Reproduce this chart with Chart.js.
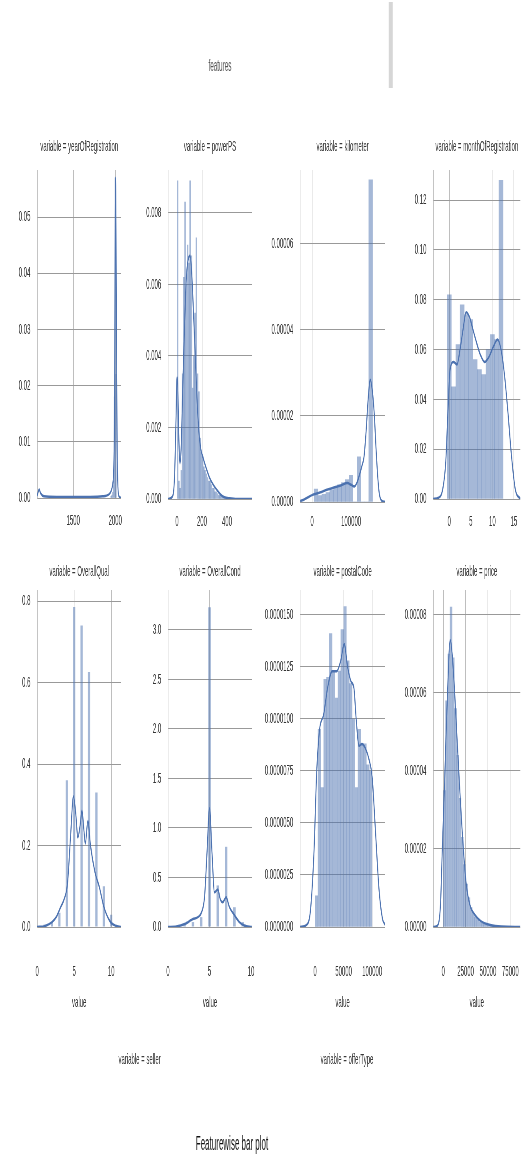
<!DOCTYPE html>
<html><head><meta charset="utf-8">
<script src="https://cdn.jsdelivr.net/npm/chart.js@4.4.0/dist/chart.umd.min.js"></script>
<style>
html,body{margin:0;padding:0;background:#fff;overflow:hidden;width:524px;height:1156px}
#fig{position:absolute;left:0;top:0;width:1310px;height:1156px;transform:scaleX(0.4);transform-origin:0 0}
#fig canvas{position:absolute}
.txt{position:absolute;font-family:'Liberation Sans',Arial,sans-serif;white-space:nowrap;transform:translate(-50%,-50%)}
</style></head>
<body><div id="fig">
<div class="txt" style="left:550px;top:66px;font-size:16px;color:#555">features</div>
<div style="position:absolute;left:972px;top:2px;width:10px;height:86px;background:#d6d6d6"></div>
<div class="txt" style="left:580px;top:1143px;font-size:20px;color:#111">Featurewise bar plot</div>
</div>
<script>
// ---------- data ----------
const yearBins = [1950, 1960, 1970, 1980, 1990, 2000, 2010];
const yearHist = [0.0003, 0.0005, 0.001, 0.003, 0.018, 0.057, 0.022];
const yearKdeX = [1071,1085,1095,1110,1150,1300,1500,1700,1850,1920,1950,1970,1982,1990,1996,2000,2004,2009,2015,2022,2032,2045,2071];
const yearKdeY = [0.0004,0.0012,0.0015,0.0009,0.0003,0.0002,0.0002,0.0002,0.0003,0.0006,0.0012,0.0025,0.005,0.013,0.03,0.05,0.057,0.048,0.028,0.01,0.002,0.0003,0];
const yearXTicks = [1500, 2000];
const yearYTicks = [0, 0.01, 0.02, 0.03, 0.04, 0.05];

const powerBins = [5,15,25,35,45,55,65,75,85,95,105,115,125,135,145,155,165,175,185,195,205,215,225,235,245,255,265,275,285,295,305,315,325,335,345,355,365,375,385,395];
const powerHist = [0.0089,0.0005,0.0003,0.0008,0.0035,0.0062,0.0083,0.0060,0.0071,0.0066,0.0089,0.0068,0.0031,0.0040,0.0052,0.0073,0.0035,0.0030,0.0017,0.0013,0.0012,0.0009,0.0008,0.0007,0.0006,0.0005,0.0005,0.0004,0.0003,0.0003,0.0002,0.0002,0.00015,0.0001,0.0001,0.00008,0.00005,0.00004,0.00003,0.00002];
const powerKdeX = [-72,-40,-20,-8,0,6,14,24,34,45,60,75,90,104,118,132,146,160,175,190,205,230,260,290,320,350,380,420,480,600];
const powerKdeY = [0,0.00005,0.0006,0.0022,0.0034,0.0032,0.0018,0.0010,0.0015,0.0030,0.0048,0.0062,0.0067,0.0068,0.0063,0.0052,0.0040,0.0028,0.0019,0.0014,0.0012,0.0009,0.0006,0.0004,0.00025,0.00012,0.00005,0.00002,0,0];
const powerXTicks = [0, 200, 400];
const powerYTicks = [0, 0.002, 0.004, 0.006, 0.008];

const kmBins = [10000,20000,30000,40000,50000,60000,70000,80000,90000,100000,110000,120000,130000,140000,150000];
const kmHist = [3.0e-6,1.5e-6,1.8e-6,2.2e-6,2.8e-6,3.5e-6,4.0e-6,4.5e-6,5.2e-6,6.2e-6,0,1.05e-5,0,0,7.49e-5];
const kmKdeX = [-30000,-20000,-10000,0,20000,40000,60000,75000,90000,100000,108000,115000,122000,128000,133000,138000,144000,149000,154000,159000,164000,168000,172000,178000,187000];
const kmKdeY = [0.2e-6,0.6e-6,1.1e-6,1.6e-6,2.2e-6,2.9e-6,3.5e-6,3.9e-6,4.4e-6,4.0e-6,3.6e-6,4.5e-6,6.5e-6,8.5e-6,1.05e-5,1.6e-5,2.44e-5,2.84e-5,2.6e-5,2.07e-5,1.2e-5,6.0e-6,2.0e-6,0.3e-6,0];
const kmXTicks = [0, 100000];
const kmYTicks = [0, 0.00002, 0.00004, 0.00006];

const monthBins = [0,1,2,3,4,5,6,7,8,9,10,11,12];
const monthHist = [0.082,0.045,0.062,0.078,0.074,0.072,0.056,0.052,0.050,0.060,0.066,0.064,0.128];
const monthKdeX = [-3.7,-2.5,-1.5,-0.8,-0.3,0.2,1.0,1.8,2.5,3.2,3.9,4.7,5.5,6.3,7.2,8.2,9.2,10.2,11.2,12,12.8,13.6,14.4,15.3,16.5];
const monthKdeY = [0,0.0005,0.004,0.015,0.035,0.052,0.055,0.054,0.060,0.068,0.075,0.073,0.068,0.063,0.058,0.055,0.057,0.061,0.064,0.060,0.050,0.035,0.018,0.004,0];
const monthXTicks = [0, 5, 10, 15];
const monthYTicks = [0, 0.02, 0.04, 0.06, 0.08, 0.10, 0.12];

const qualBins = [1,2,3,4,5,6,7,8,9,10];
const qualHist = [0.006,0.012,0.035,0.36,0.785,0.74,0.626,0.33,0.1,0.03];
const qualKdeX = [0,1,2,2.6,3.2,3.6,4.1,4.5,4.9,5.2,5.5,5.8,6.05,6.3,6.5,6.85,7.2,7.8,8.4,9,9.8,10.6,11.35];
const qualKdeY = [0,0.002,0.012,0.025,0.05,0.066,0.108,0.22,0.32,0.28,0.22,0.25,0.285,0.24,0.205,0.26,0.2,0.135,0.098,0.05,0.015,0.003,0];
const qualXTicks = [0, 5, 10];
const qualYTicks = [0, 0.2, 0.4, 0.6, 0.8];

const condBins = [1,2,3,4,5,6,7,8,9];
const condHist = [0.005,0.02,0.05,0.1,3.23,0.42,0.81,0.2,0.05];
const condKdeX = [0,1,2,3,3.6,4,4.4,4.7,5,5.3,5.6,6,6.3,6.6,7,7.4,8,8.6,9.2,10.1];
const condKdeY = [0,0.005,0.03,0.08,0.1,0.14,0.3,0.75,1.2,0.75,0.35,0.38,0.28,0.25,0.3,0.2,0.12,0.05,0.015,0];
const condXTicks = [0, 5, 10];
const condYTicks = [0, 0.5, 1.0, 1.5, 2.0, 2.5, 3.0];

const postalBins = [2500,7500,12500,17500,22500,27500,32500,37500,42500,47500,52500,57500,62500,67500,72500,77500,82500,87500,92500,97500];
const postalHist = [1.5e-6,9.5e-6,6.7e-6,1.19e-5,1.2e-5,1.41e-5,1.23e-5,1.10e-5,1.23e-5,1.43e-5,1.54e-5,1.28e-5,1.17e-5,1.0e-5,6.7e-6,9.5e-6,8.8e-6,8.8e-6,7.8e-6,7.5e-6];
const postalKdeX = [-26000,-15000,-8000,-2000,3000,8000,15000,22000,30000,38000,45000,51000,57000,63000,68000,72000,77000,82000,88000,95000,100000,106000,112000,118000,122800];
const postalKdeY = [0,0.1e-6,0.8e-6,3.5e-6,7.5e-6,9.5e-6,1.02e-5,1.15e-5,1.23e-5,1.23e-5,1.28e-5,1.36e-5,1.25e-5,1.18e-5,1.15e-5,1.0e-5,8.7e-6,8.8e-6,8.6e-6,8.0e-6,7.2e-6,4.5e-6,1.8e-6,0.4e-6,0.1e-6];
const postalXTicks = [0, 50000, 100000];
const postalYTicks = [0, 0.0000025, 0.000005, 0.0000075, 0.00001, 0.0000125, 0.000015];

const priceBins = [1250,3750,6250,8750,11250,13750,16250,18750,21250,23750,26250,28750,31250,33750,36250,38750,41250,43750,46250,48750,51250,53750,56250,58750,61250];
const priceHist = [3.5e-5,5.8e-5,7.0e-5,8.2e-5,6.9e-5,5.6e-5,4.4e-5,3.3e-5,2.3e-5,1.6e-5,1.1e-5,7.5e-6,5.0e-6,3.5e-6,2.5e-6,1.8e-6,1.3e-6,1.0e-6,7e-7,5e-7,4e-7,3e-7,2e-7,1.5e-7,1e-7];
const priceKdeX = [-11000,-6000,-3000,-1000,1100,4500,7800,10000,12300,15500,19000,22500,25700,30000,35800,42000,52600,65000,86000];
const priceKdeY = [0,0.5e-6,6e-6,2.0e-5,3.4e-5,5.8e-5,7.36e-5,7.0e-5,6.2e-5,4.8e-5,3.3e-5,2.0e-5,1.1e-5,5.5e-6,3.0e-6,1.5e-6,5e-7,1e-7,0];
const priceXTicks = [0, 25000, 50000, 75000];
const priceYTicks = [0, 0.00002, 0.00004, 0.00006, 0.00008];

// ---------- layout ----------
const S = 0.4, YW = 90, RP = 8, FS = 15, LH = FS * 1.2;
const FONT = "'Liberation Sans', Arial, sans-serif";
const fig = document.getElementById('fig');

const panels = [
  {title:'variable = yearOfRegistration', bins:yearBins, hist:yearHist, kx:yearKdeX, ky:yearKdeY, xt:yearXTicks, yt:yearYTicks, dec:2,
   xmin:1071, xmax:2071, ymax:0.0584, L:37, R:121, T:170, B:498, tc:147, xh:40, lab:23, bp:1},
  {title:'variable = powerPS', bins:powerBins, hist:powerHist, kx:powerKdeX, ky:powerKdeY, xt:powerXTicks, yt:powerYTicks, dec:3,
   xmin:-72, xmax:600, ymax:0.0092, L:168, R:252, T:170, B:499, tc:147, xh:40, lab:23, bp:1},
  {title:'variable = kilometer', bins:kmBins, hist:kmHist, kx:kmKdeX, ky:kmKdeY, xt:kmXTicks, yt:kmYTicks, dec:5,
   xmin:-30770, xmax:187180, ymax:0.0000772, L:300, R:385, T:170, B:502, tc:147, xh:37, lab:20, bp:1},
  {title:'variable = monthOfRegistration', bins:monthBins, hist:monthHist, kx:monthKdeX, ky:monthKdeY, xt:monthXTicks, yt:monthYTicks, dec:2,
   xmin:-3.72, xmax:16.5, ymax:0.1321, L:433, R:520, T:170, B:499, tc:147, xh:40, lab:23, bp:1},
  {title:'variable = OverallQual', bins:qualBins, hist:qualHist, kx:qualKdeX, ky:qualKdeY, xt:qualXTicks, yt:qualYTicks, dec:1,
   xmin:0, xmax:11.35, ymax:0.827, L:37, R:121, T:590, B:927, tc:572, xh:90, lab:45, bp:0.3, xtitle:true},
  {title:'variable = OverallCond', bins:condBins, hist:condHist, kx:condKdeX, ky:condKdeY, xt:condXTicks, yt:condYTicks, dec:1,
   xmin:0, xmax:10.12, ymax:3.404, L:168, R:252, T:590, B:927, tc:572, xh:90, lab:45, bp:0.3, xtitle:true},
  {title:'variable = postalCode', bins:postalBins, hist:postalHist, kx:postalKdeX, ky:postalKdeY, xt:postalXTicks, yt:postalYTicks, dec:7,
   xmin:-26316, xmax:122807, ymax:0.0000162, L:300, R:385, T:590, B:927, tc:572, xh:90, lab:45, bp:1, xtitle:true},
  {title:'variable = price', bins:priceBins, hist:priceHist, kx:priceKdeX, ky:priceKdeY, xt:priceXTicks, yt:priceYTicks, dec:5,
   xmin:-11198, xmax:86226, ymax:0.0000864, L:433, R:520, T:590, B:927, tc:572, xh:90, lab:45, bp:1, xtitle:true}
];

function addCanvas(left, top, w, h) {
  const c = document.createElement('canvas');
  c.width = Math.round(w); c.height = Math.round(h);
  c.style.left = left + 'px'; c.style.top = top + 'px';
  fig.appendChild(c);
  return c;
}

panels.forEach(p => {
  const top = p.tc - LH / 2;
  const left = p.L / S - YW;
  const w = (p.R - p.L) / S + YW + RP;
  const h = p.B + p.xh - top;
  const c = addCanvas(left, top, w, h);
  const bars = p.bins.map((x, i) => ({x: x, y: p.hist[i]}));
  const kde = p.kx.map((x, i) => ({x: x, y: p.ky[i]}));
  const xTickLen = p.lab - LH / 2 - 2;
  new Chart(c, {
    type: 'bar',
    data: {datasets: [
      {type:'line', data:kde, borderColor:'#4c72b0', borderWidth:2.5, pointRadius:0,
       cubicInterpolationMode:'monotone', fill:false, order:0},
      {type:'bar', data:bars, backgroundColor:'rgba(76,114,176,0.5)', borderWidth:0,
       barPercentage:p.bp, categoryPercentage:1, order:1}
    ]},
    options: {
      responsive:false, animation:false, events:[],
      layout:{padding:{left:0, right:RP, top:0, bottom:0}},
      plugins:{
        legend:{display:false}, tooltip:{enabled:false},
        title:{display:true, text:p.title, fullSize:false, color:'#3a3a3a',
               font:{family:FONT, size:FS, weight:'normal'},
               padding:{top:0, bottom:p.T - top - LH}}
      },
      scales:{
        x:{type:'linear', min:p.xmin, max:p.xmax, offset:false,
           afterBuildTicks: s => { s.ticks = p.xt.map(v => ({value:v})); },
           afterFit: s => { s.height = p.xh; },
           ticks:{autoSkip:false, maxRotation:0, minRotation:0, padding:2, color:'#333',
                  font:{family:FONT, size:FS}, callback: v => String(v)},
           grid:{color:'#a8a8a8', lineWidth:1, drawTicks:true, tickLength:xTickLen,
                 tickColor:'rgba(0,0,0,0)', offset:false},
           border:{display:false},
           title: p.xtitle ? {display:true, text:'value', color:'#333', font:{family:FONT, size:FS},
                               padding:{top:0, bottom:5}} : {display:false}},
        y:{min:0, max:p.ymax,
           afterBuildTicks: s => { s.ticks = p.yt.map(v => ({value:v})); },
           afterFit: s => { s.width = YW; },
           ticks:{padding:3, color:'#333', font:{family:FONT, size:FS}, callback: v => Number(v).toFixed(p.dec)},
           grid:{color:'#999', lineWidth:1, drawTicks:true, tickLength:14, tickColor:'rgba(0,0,0,0)'},
           border:{display:true, color:'#b0b0b0'}}
      }
    }
  });
});

// empty facets (seller, offerType)
const emptyFacets = [
  {title:'variable = seller', L:62, R:217},
  {title:'variable = offerType', L:268, R:426}
];
emptyFacets.forEach(p => {
  const c = addCanvas(p.L / S, 1060 - LH / 2, (p.R - p.L) / S, 40);
  new Chart(c, {
    type:'bar',
    data:{datasets:[]},
    options:{
      responsive:false, animation:false, events:[],
      plugins:{legend:{display:false}, tooltip:{enabled:false},
        title:{display:true, text:p.title, color:'#3a3a3a', font:{family:FONT, size:FS, weight:'normal'}, padding:{top:0,bottom:4}}},
      scales:{x:{display:false}, y:{display:false}}
    }
  });
});
</script>
</body></html>
